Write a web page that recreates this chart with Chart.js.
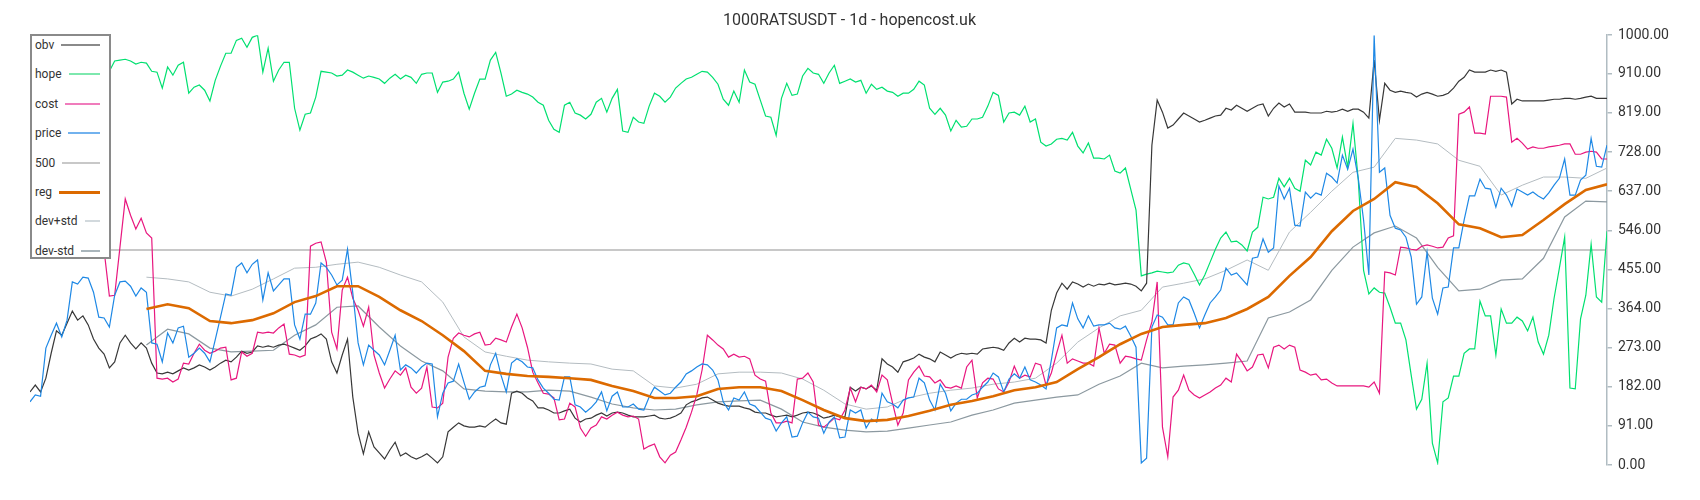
<!DOCTYPE html>
<html>
<head>
<meta charset="utf-8">
<title>1000RATSUSDT - 1d - hopencost.uk</title>
<script src="https://cdn.jsdelivr.net/npm/chart.js@4.4.0/dist/chart.umd.min.js"></script>
<style>
  body { margin: 0; background: #fff; }
  #wrap { position: relative; width: 1700px; height: 500px; }
  #leyenda {
    position: absolute; left: 30px; top: 34px; width: 77px; height: 221px;
    border: 2px solid #8a8a8a; background: #fff;
    font-family: Roboto, sans-serif; font-size: 12px; color: #333;
  }
  .item { position: absolute; left: 3px; right: 9px; height: 16px; line-height: 16px; display: flex; align-items: center; }
  .item .linea { flex: 1; margin-left: 7px; }
</style>
</head>
<body>
<div id="wrap">
  <canvas id="grafica" width="1700" height="500"></canvas>
  <div id="leyenda"></div>
</div>
<script>
// Datos (un valor por dia)
const obv = [170,186,170,202,260,312,302,330,358,337,
  347,326,293,272,258,226,240,284,302,284,
  270,284,272,237,214,212,216,212,219,226,
  221,226,233,228,221,228,237,244,240,251,
  265,260,263,277,274,277,274,279,281,277,
  272,267,277,293,298,305,293,240,214,256,
  293,158,74,26,77,42,28,14,35,53,
  21,28,19,14,19,26,16,5,19,77,
  88,98,91,88,88,91,88,98,107,98,
  95,167,172,167,156,149,133,133,128,121,
  121,126,130,109,100,107,109,116,121,114,
  121,123,121,116,112,112,112,114,116,109,
  107,109,114,121,140,147,151,156,158,151,
  144,140,137,137,137,133,130,123,121,121,
  116,112,114,116,112,116,121,123,121,116,
  109,112,116,112,112,181,172,181,177,184,
  174,247,235,228,216,240,244,249,258,251,
  247,240,263,256,249,256,260,258,260,258,
  270,272,274,272,267,284,295,286,295,293,
  293,291,284,360,400,423,409,426,421,414,
  421,416,421,419,423,419,421,423,421,416,
  405,423,744,849,821,784,791,805,819,812,
  805,798,802,807,812,814,830,826,837,830,
  823,830,837,840,812,830,842,833,840,821,
  821,821,819,819,819,823,821,823,828,823,
  828,828,821,807,942,802,888,872,867,870,
  867,865,856,863,867,863,858,860,865,877,
  893,902,919,914,914,914,919,916,919,914,
  840,851,847,847,847,847,847,849,851,851,
  853,853,851,853,856,858,853,853,853];

const hope = [940,935,945,930,938,925,932,940,928,935,
  942,930,920,925,930,916,940,942,944,940,
  933,937,935,916,914,877,926,907,930,937,
  865,879,884,872,847,895,928,958,958,988,
  993,972,995,1000,914,970,893,919,937,937,
  830,779,816,819,856,916,914,912,905,907,
  919,914,907,900,905,902,898,888,900,909,
  898,907,902,888,909,912,912,867,891,893,
  898,914,865,828,865,898,898,942,960,912,
  858,863,872,867,863,856,844,837,802,781,
  774,837,844,819,814,805,816,844,853,821,
  853,874,777,774,809,798,795,835,865,858,
  844,856,877,888,898,902,909,916,914,902,
  886,851,837,870,844,919,891,886,849,812,
  809,767,853,888,860,863,905,923,912,909,
  888,912,930,888,893,898,891,895,865,886,
  874,879,870,867,858,865,865,874,893,884,
  830,816,830,814,777,802,786,788,805,805,
  809,835,867,860,798,819,821,814,835,798,
  805,751,742,747,758,760,756,774,742,726,
  749,714,714,712,721,684,679,691,642,593,
  440,444,447,451,449,447,449,465,470,467,
  444,419,442,472,502,528,542,519,521,512,
  498,542,553,623,619,623,667,647,667,644,
  637,709,698,728,721,758,737,691,763,693,
  795,663,453,398,412,402,400,367,330,330,
  291,209,130,153,237,51,5,147,156,207,
  207,260,270,270,381,347,347,256,363,330,
  330,344,335,312,344,286,258,302,388,458,
  530,179,177,340,395,514,391,379,544];

const cost = [560,575,590,585,600,570,560,580,590,575,
  560,550,545,530,500,393,395,507,619,581,
  549,574,540,528,202,200,202,193,200,237,
  235,260,281,267,260,265,272,274,198,202,
  263,253,260,309,307,309,307,319,328,258,
  256,251,256,509,516,519,472,309,270,407,
  437,388,360,323,367,256,214,179,200,219,
  209,226,181,167,179,228,135,133,144,251,
  295,307,302,298,305,309,279,281,295,291,
  286,321,351,319,274,216,191,167,165,156,
  105,107,144,135,86,67,86,93,112,107,
  116,123,116,112,114,107,37,44,49,19,
  5,23,30,58,88,123,163,221,302,291,
  279,270,251,258,251,253,247,209,200,195,
  121,98,98,102,98,200,202,214,193,93,
  88,98,109,105,128,179,147,181,177,186,
  170,209,198,144,93,121,198,216,230,207,
  205,191,198,181,179,184,179,228,244,156,
  191,202,200,177,170,193,230,202,209,205,
  237,233,186,214,260,302,237,247,242,237,
  237,230,319,260,281,279,237,253,251,247,
  244,291,333,426,88,19,158,174,209,174,
  163,156,163,170,179,186,202,193,258,240,
  219,228,256,258,226,274,279,270,279,274,
  221,216,209,212,198,200,191,184,184,184,
  184,184,184,181,193,167,449,447,442,507,
  505,502,500,509,512,509,505,507,528,533,
  816,821,833,772,772,770,858,858,858,856,
  751,760,749,735,740,737,737,740,742,744,
  747,747,723,723,728,730,728,712,712];

const price = [147,163,160,272,302,330,298,337,426,421,
  437,435,402,344,342,321,395,426,428,416,
  393,412,402,284,281,240,307,284,319,323,
  251,260,272,260,240,291,344,398,395,460,
  470,447,467,477,384,447,405,419,433,433,
  326,293,351,351,377,470,460,442,419,430,
  502,400,284,233,279,267,256,233,267,302,
  221,233,226,214,228,237,235,112,167,191,
  195,235,193,153,170,181,184,233,260,209,
  170,237,247,240,228,226,198,179,167,153,
  151,205,205,140,135,123,133,147,170,126,
  160,170,135,135,142,130,128,158,181,172,
  163,167,181,193,212,219,228,235,233,221,
  198,147,128,156,151,170,142,137,123,109,
  105,79,98,112,65,67,98,123,112,109,
  74,100,112,63,65,128,121,128,86,107,
  100,167,147,142,133,151,156,158,202,191,
  151,128,188,167,126,144,153,153,163,167,
  181,193,214,205,170,200,212,202,228,198,
  193,186,177,244,319,326,323,377,340,319,
  347,323,326,326,330,319,316,323,300,274,
  5,16,321,349,344,326,326,377,391,384,
  353,319,349,377,391,407,458,442,447,433,
  419,481,484,526,495,505,649,619,644,558,
  556,635,621,633,628,679,670,656,721,688,
  735,667,570,442,1000,681,691,581,551,547,
  530,484,374,391,495,388,351,412,414,505,
  505,570,626,626,665,644,642,600,644,628,
  602,642,635,628,635,626,619,633,651,667,
  712,628,628,663,674,760,695,693,744];

// Las curvas suaves tienen un valor cada 4 dias, empezando en el dia 22
const BAND_START = 22;
const BAND_STEP = 4;
const reg = [363,374,365,335,330,337,353,379,393,416,
  416,391,360,335,302,265,219,212,207,205,
  202,198,184,172,156,156,160,177,181,181,
  172,151,128,109,102,105,114,126,140,149,
  160,174,181,193,223,251,281,305,321,326,
  330,342,363,391,440,484,544,591,619,658,
  647,609,560,551,530,535,570,607,640,653];
const devPlus = [437,433,426,402,393,409,433,458,460,467,
  472,460,442,426,379,298,263,253,244,240,
  237,235,223,219,184,179,188,212,216,216,
  214,200,174,142,130,135,156,167,174,179,
  188,193,202,237,286,319,347,360,414,423,
  433,453,477,453,542,588,637,681,693,760,
  756,747,709,695,628,651,670,670,667,691];
const devMinus = [279,316,305,272,263,265,267,302,326,367,
  370,321,277,242,219,177,172,170,170,174,
  172,158,142,133,128,130,140,147,149,151,
  130,100,88,81,77,79,86,93,100,116,
  128,144,151,158,163,188,207,237,226,230,
  233,237,242,342,356,384,453,507,540,556,
  528,460,405,409,430,433,481,577,614,612];

const LEVEL = 500;
// marcas del eje derecho
const yTicks = [0, 91, 182, 273, 364, 455, 546, 637, 728, 819, 910, 1000];
const N = price.length;

// nombre, color de la linea, color en la leyenda, grosor
const series = [
  { label: "obv", color: "#383838", legendColor: "#8a8a8a", width: 1.2 },
  { label: "hope", color: "#00e070", legendColor: "#7de8ae", width: 1.2 },
  { label: "cost", color: "#e8177f", legendColor: "#f07cbc", width: 1.2 },
  { label: "price", color: "#1e88e5", legendColor: "#72b2ee", width: 1.2 },
  { label: "500", color: "#c8c8c8", legendColor: "#c8c8c8", width: 2 },
  { label: "reg", color: "#dc6a00", legendColor: "#dc6a00", width: 2.6 },
  { label: "dev+std", color: "#b4bcc1", legendColor: "#d2d9dd", width: 1 },
  { label: "dev-std", color: "#8c99a0", legendColor: "#a9b5bb", width: 1.2 },
];

function porDia(values) {
  return values.map((v, i) => ({ x: i, y: v }));
}

function porBanda(values) {
  return values.map((v, k) => ({ x: BAND_START + k * BAND_STEP, y: v }));
}

function dataset(name, data) {
  const s = series.find(e => e.label === name);
  return {
    label: name,
    data: data,
    borderColor: s.color,
    borderWidth: s.width,
    pointRadius: 0,
    fill: false,
    tension: 0,
  };
}

// Leyenda propia: texto y luego la muestra de linea
function crearLeyenda() {
  const caja = document.getElementById("leyenda");
  series.forEach((s, i) => {
    const fila = document.createElement("div");
    fila.className = "item";
    fila.style.top = (1 + i * 29.4) + "px";
    const texto = document.createElement("span");
    texto.textContent = s.label;
    const linea = document.createElement("span");
    linea.className = "linea";
    linea.style.height = (s.label === "reg" ? 3 : 2) + "px";
    linea.style.background = s.legendColor;
    fila.appendChild(texto);
    fila.appendChild(linea);
    caja.appendChild(fila);
  });
}

// el primero del array se dibuja encima
const datasets = [
  dataset("reg", porBanda(reg)),
  dataset("price", porDia(price)),
  dataset("cost", porDia(cost)),
  dataset("obv", porDia(obv)),
  dataset("hope", porDia(hope)),
  dataset("dev+std", porBanda(devPlus)),
  dataset("dev-std", porBanda(devMinus)),
  dataset("500", [{ x: 0, y: LEVEL }, { x: N - 1, y: LEVEL }]),
];

const axisColor = "#b0bcc2";

const chart = new Chart(document.getElementById("grafica"), {
  type: "line",
  data: { datasets: datasets },
  options: {
    responsive: false,
    animation: false,
    layout: { padding: { left: 30, right: 31, top: 0, bottom: 35 } },
    plugins: {
      legend: { display: false },
      tooltip: { enabled: false },
      title: {
        display: true,
        text: "1000RATSUSDT - 1d - hopencost.uk",
        color: "#333",
        font: { family: "Roboto", size: 16, weight: "normal" },
        padding: { top: 11, bottom: 5 },
      },
    },
    scales: {
      x: { type: "linear", display: false, min: 0, max: N - 1 },
      y: {
        position: "right",
        min: 0,
        max: 1000,
        afterBuildTicks: (scale) => { scale.ticks = yTicks.map(v => ({ value: v })); },
        afterFit: (scale) => { scale.width = 62; },
        ticks: {
          padding: 6,
          color: "#333",
          font: { family: "Roboto", size: 14 },
          callback: (v) => Number(v).toFixed(2),
        },
        grid: { drawOnChartArea: false, drawTicks: true, tickLength: 5, color: axisColor, lineWidth: 1.5 },
        border: { display: true, color: axisColor, width: 1.5 },
      },
    },
  },
});

crearLeyenda();
</script>
</body>
</html>
